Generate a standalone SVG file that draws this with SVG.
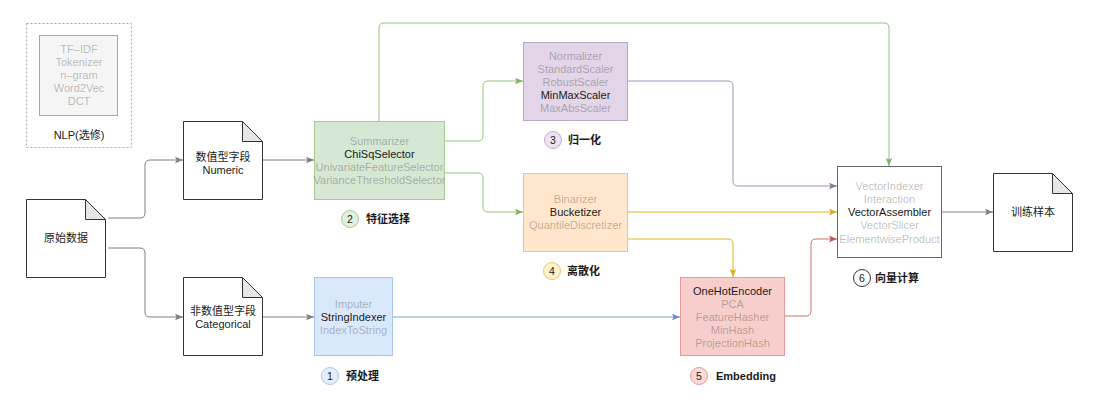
<svg xmlns="http://www.w3.org/2000/svg" width="1096" height="409" viewBox="0 0 1096 409">
<style>
text{font-family:"Liberation Sans","Noto Sans CJK SC",sans-serif;font-size:11px;text-anchor:middle;dominant-baseline:central;fill:#1a1a1a}
.dim{fill:#000;fill-opacity:0.27}
.lbl{font-weight:bold;text-anchor:start}
.num{font-size:10.5px}
.doc{fill:#fff;stroke:#333;stroke-width:1}
.fold{fill:#e6e6e6;stroke:#333;stroke-width:1}
.c{fill:none;stroke-width:1}
</style>
<defs>
<marker id="aG" viewBox="0 0 8 8" refX="8" refY="4" markerWidth="8" markerHeight="8" markerUnits="userSpaceOnUse" orient="auto"><path d="M0,0.8 L8,4 L0,7.2 L1.6,4 Z" fill="#808080"/></marker>
<marker id="aGr" viewBox="0 0 8 8" refX="8" refY="4" markerWidth="8" markerHeight="8" markerUnits="userSpaceOnUse" orient="auto"><path d="M0,0.8 L8,4 L0,7.2 L1.6,4 Z" fill="#82b366"/></marker>
<marker id="aP" viewBox="0 0 8 8" refX="8" refY="4" markerWidth="8" markerHeight="8" markerUnits="userSpaceOnUse" orient="auto"><path d="M0,0.8 L8,4 L0,7.2 L1.6,4 Z" fill="#9673a6"/></marker>
<marker id="aO" viewBox="0 0 8 8" refX="8" refY="4" markerWidth="8" markerHeight="8" markerUnits="userSpaceOnUse" orient="auto"><path d="M0,0.8 L8,4 L0,7.2 L1.6,4 Z" fill="#e0ac1c"/></marker>
<marker id="aR" viewBox="0 0 8 8" refX="8" refY="4" markerWidth="8" markerHeight="8" markerUnits="userSpaceOnUse" orient="auto"><path d="M0,0.8 L8,4 L0,7.2 L1.6,4 Z" fill="#c05450"/></marker>
<marker id="aB" viewBox="0 0 8 8" refX="8" refY="4" markerWidth="8" markerHeight="8" markerUnits="userSpaceOnUse" orient="auto"><path d="M0,0.8 L8,4 L0,7.2 L1.6,4 Z" fill="#6c8ebf"/></marker>
</defs>
<rect width="1096" height="409" fill="#fff"/>

<g id="connectors">
<path class="c" stroke="#808080" marker-end="url(#aG)" d="M108,218 H140 Q145,218 145,213 V165 Q145,160 150,160 H183"/>
<path class="c" stroke="#808080" marker-end="url(#aG)" d="M108,248 H140 Q145,248 145,253 V312 Q145,317 150,317 H183"/>
<path class="c" stroke="#808080" marker-end="url(#aG)" d="M262,160 H314"/>
<path class="c" stroke="#808080" marker-end="url(#aG)" d="M262,317 H314"/>
<path class="c" stroke="#7c9fd6" marker-end="url(#aB)" d="M393,317 H680"/>
<path class="c" stroke="#97c27a" marker-end="url(#aGr)" d="M445,141 H478 Q483,141 483,136 V86 Q483,81 488,81 H523"/>
<path class="c" stroke="#97c27a" marker-end="url(#aGr)" d="M445,173 H478 Q483,173 483,178 V207 Q483,212 488,212 H523"/>
<path class="c" stroke="#97c27a" marker-end="url(#aGr)" d="M379,121 V28 Q379,23 384,23 H884 Q889,23 889,28 V166"/>
<path class="c" stroke="#a58fb8" marker-end="url(#aP)" d="M628,81 H728 Q733,81 733,86 V181 Q733,186 738,186 H837"/>
<path class="c" stroke="#e6b422" marker-end="url(#aO)" d="M628,212 H837"/>
<path class="c" stroke="#e6b422" marker-end="url(#aO)" d="M628,239 H728 Q733,239 733,244 V277"/>
<path class="c" stroke="#d07070" marker-end="url(#aR)" d="M785,316 H806 Q811,316 811,311 V244 Q811,239 816,239 H837"/>
<path class="c" stroke="#808080" marker-end="url(#aG)" d="M942,212 H993"/>
</g>

<g id="nlp">
<rect x="26.5" y="23.5" width="105" height="124" fill="none" stroke="#a6a6a6" stroke-dasharray="2,2"/>
<rect x="39.5" y="35.5" width="78" height="80" fill="#f5f5f5" stroke="#a6a6a6"/>
<text x="79" y="49" class="dim">TF–IDF</text>
<text x="79" y="62" class="dim">Tokenizer</text>
<text x="79" y="75" class="dim">n–gram</text>
<text x="79" y="88" class="dim">Word2Vec</text>
<text x="79" y="101" class="dim">DCT</text>
<text x="79" y="135">NLP(选修)</text>
</g>

<g id="raw">
<path class="doc" d="M26.5,199.5 H85.5 L105.5,219.5 V277.5 H26.5 Z"/>
<path class="fold" d="M85.5,199.5 V219.5 H105.5 Z"/>
<text x="66" y="238">原始数据</text>
</g>

<g id="numeric">
<path class="doc" d="M183.5,121.5 H242.5 L262.5,141.5 V199.5 H183.5 Z"/>
<path class="fold" d="M242.5,121.5 V141.5 H262.5 Z"/>
<text x="223" y="157">数值型字段</text>
<text x="223" y="170">Numeric</text>
</g>

<g id="categorical">
<path class="doc" d="M183.5,277.5 H242.5 L262.5,297.5 V355.5 H183.5 Z"/>
<path class="fold" d="M242.5,277.5 V297.5 H262.5 Z"/>
<text x="223" y="311">非数值型字段</text>
<text x="223" y="324">Categorical</text>
</g>

<g id="select">
<rect x="314.5" y="121.5" width="130" height="78" fill="#d5e8d4" stroke="#a3cc8f"/>
<text x="379.5" y="141" class="dim">Summarizer</text>
<text x="379.5" y="154">ChiSqSelector</text>
<text x="379.5" y="167" class="dim">UnivariateFeatureSelector</text>
<text x="379.5" y="180" class="dim">VarianceThresholdSelector</text>
<circle cx="350" cy="219" r="8.5" fill="#e3f0e0" stroke="#a3cc8f"/>
<text x="350" y="219" class="num">2</text>
<text x="366" y="219" class="lbl">特征选择</text>
</g>

<g id="normalize">
<rect x="523.5" y="42.5" width="104" height="78" fill="#e1d5e7" stroke="#b9a6c9"/>
<text x="575.5" y="56" class="dim">Normalizer</text>
<text x="575.5" y="69" class="dim">StandardScaler</text>
<text x="575.5" y="82" class="dim">RobustScaler</text>
<text x="575.5" y="95">MinMaxScaler</text>
<text x="575.5" y="108" class="dim">MaxAbsScaler</text>
<circle cx="553" cy="140" r="8.5" fill="#ece3f0" stroke="#c1acd2"/>
<text x="553" y="140" class="num">3</text>
<text x="568" y="140" class="lbl">归一化</text>
</g>

<g id="discretize">
<rect x="523.5" y="173.5" width="104" height="78" fill="#ffe6cc" stroke="#f2c76b"/>
<text x="575.5" y="199" class="dim">Binarizer</text>
<text x="575.5" y="212">Bucketizer</text>
<text x="575.5" y="225" class="dim">QuantileDiscretizer</text>
<circle cx="552" cy="271" r="8.5" fill="#fff2cc" stroke="#eec46a"/>
<text x="552" y="271" class="num">4</text>
<text x="567" y="271" class="lbl">离散化</text>
</g>

<g id="preprocess">
<rect x="314.5" y="277.5" width="78" height="78" fill="#dae8fc" stroke="#a9c4eb"/>
<text x="353.5" y="304" class="dim">Imputer</text>
<text x="353.5" y="317">StringIndexer</text>
<text x="353.5" y="330" class="dim">IndexToString</text>
<circle cx="330" cy="376" r="8.5" fill="#e6effc" stroke="#a9c4eb"/>
<text x="330" y="376" class="num">1</text>
<text x="346" y="376" class="lbl">预处理</text>
</g>

<g id="embedding">
<rect x="680.5" y="277.5" width="104" height="78" fill="#f8cecc" stroke="#e39a98"/>
<text x="732.5" y="291">OneHotEncoder</text>
<text x="732.5" y="304" class="dim">PCA</text>
<text x="732.5" y="317" class="dim">FeatureHasher</text>
<text x="732.5" y="330" class="dim">MinHash</text>
<text x="732.5" y="343" class="dim">ProjectionHash</text>
<circle cx="699" cy="376" r="8.5" fill="#fadada" stroke="#e39a98"/>
<text x="699" y="376" class="num">5</text>
<text x="716" y="376" class="lbl">Embedding</text>
</g>

<g id="vector">
<rect x="837.5" y="166.5" width="104" height="91" fill="#fff" stroke="#666"/>
<text x="889.5" y="186" class="dim">VectorIndexer</text>
<text x="889.5" y="199" class="dim">Interaction</text>
<text x="889.5" y="212">VectorAssembler</text>
<text x="889.5" y="225" class="dim">VectorSlicer</text>
<text x="889.5" y="239" class="dim">ElementwiseProduct</text>
<circle cx="862" cy="278" r="8.5" fill="#fff" stroke="#333"/>
<text x="862" y="278" class="num">6</text>
<text x="875" y="278" class="lbl">向量计算</text>
</g>

<g id="train">
<path class="doc" d="M993.5,173.5 H1052.5 L1072.5,193.5 V251.5 H993.5 Z"/>
<path class="fold" d="M1052.5,173.5 V193.5 H1072.5 Z"/>
<text x="1033" y="212">训练样本</text>
</g>
</svg>
